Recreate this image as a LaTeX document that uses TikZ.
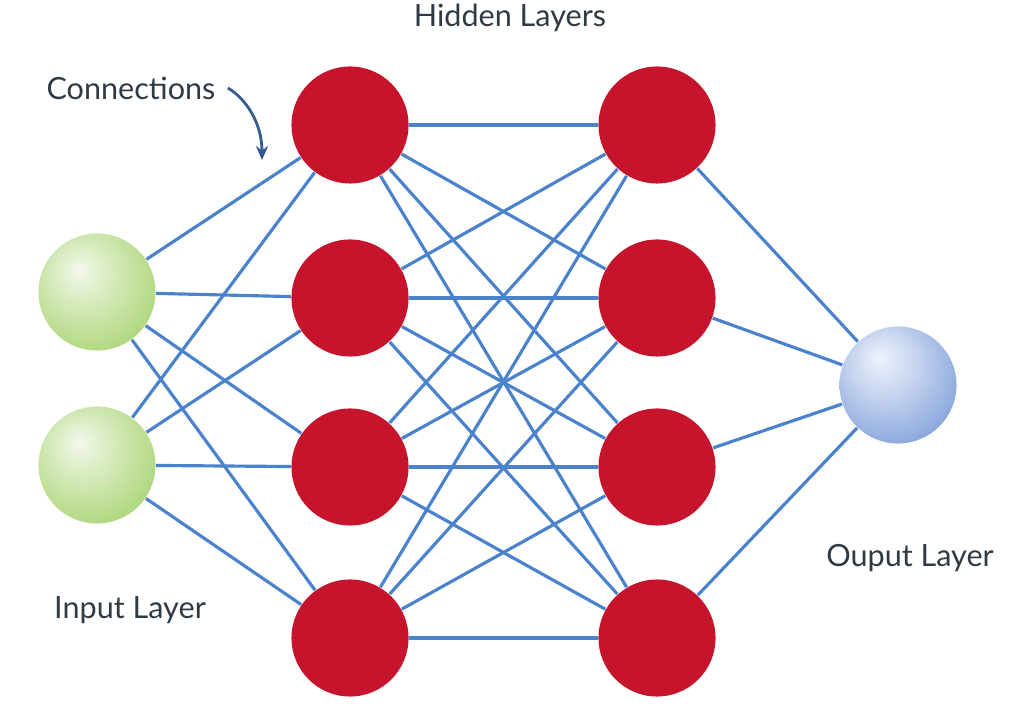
\documentclass[tikz,border=0pt]{standalone}
\usepackage{fontspec}
\setmainfont{Lato}
\definecolor{NNred}{HTML}{C6142C}
\definecolor{NNblue}{HTML}{4B82CC}
\definecolor{NNgreen}{HTML}{86C23A}
\definecolor{NNball}{HTML}{3467C4}
\definecolor{NNtext}{HTML}{2F3A45}
\usetikzlibrary{arrows.meta}
\pgfdeclareradialshading{greenball}{\pgfpoint{-8bp}{10bp}}{color(0bp)=(white!90!NNgreen); color(12bp)=(white!68!NNgreen); color(40bp)=(NNgreen!80!white); color(62bp)=(NNgreen!92!black)}
\pgfdeclareradialshading{blueball}{\pgfpoint{-8bp}{12bp}}{color(0bp)=(white!92!NNball); color(14bp)=(white!72!NNball); color(40bp)=(NNball!70!white); color(64bp)=(NNball!95!black)}

\begin{document}
\begin{tikzpicture}[x=0.01cm,y=-0.01cm,>=Stealth,
  neuron/.style={circle,minimum size=1.17cm,inner sep=0pt},
  hid/.style={neuron,fill=NNred},
  inp/.style={neuron,shading=greenball},
  outp/.style={neuron,shading=blueball},
  link/.style={NNblue,line width=0.9pt},
  lbl/.style={text=NNtext,font=\fontsize{8.7}{10}\selectfont}]
  \useasboundingbox (0,0) rectangle (1024,713);
  % neurons
  \foreach \i/\y in {1/292,2/465}
    \node[inp] (in\i) at (97,\y) {};
  \foreach \j/\y in {1/125,2/298,3/467,4/638} {
    \node[hid] (ha\j) at (350,\y) {};
    \node[hid] (hb\j) at (657,\y) {};
  }
  \node[outp] (out) at (898,385) {};
  % connections
  \foreach \i in {1,2}
    \foreach \j in {1,...,4}
      \draw[link] (in\i) -- (ha\j);
  \foreach \j in {1,...,4}
    \foreach \k in {1,...,4}
      \draw[link] (ha\j) -- (hb\k);
  \foreach \k in {1,...,4}
    \draw[link] (hb\k) -- (out);
  % labels
  \node[lbl] (hidden) at (510,18) {Hidden Layers};
  \node[lbl] (conn) at (131,88) {Connections};
  \node[lbl] (input) at (130,610) {Input Layer};
  \node[lbl] (output) at (910,558) {Ouput Layer};
  \coordinate (conntip) at (262,160);
  \draw[->,NNblue!70!black,line width=0.8pt,>={Stealth[length=4pt,width=3.5pt]}]
    (conn.east) .. controls (245,98) and (262,122) .. (conntip);
\end{tikzpicture}
\end{document}
